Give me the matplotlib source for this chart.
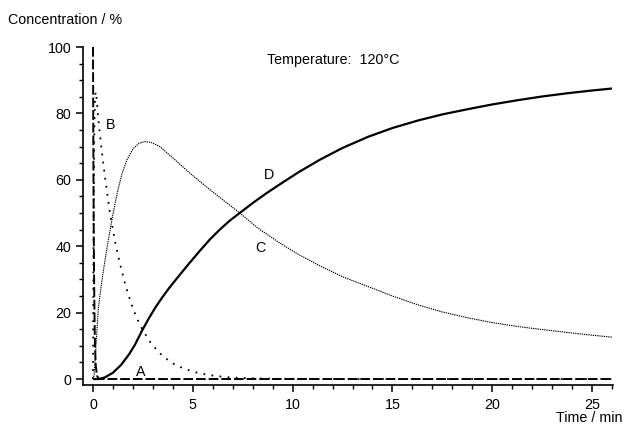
import matplotlib
matplotlib.use("Agg")
import matplotlib.pyplot as plt
from matplotlib.ticker import MultipleLocator

plt.rcParams["font.family"] = ["Liberation Sans", "DejaVu Sans"]
plt.rcParams["font.size"] = 10.3

# concentration profiles of A -> B -> C -> D at 120 °C
t_A = [0, 0.02, 0.04, 0.06, 0.08, 0.1, 0.14, 0.2, 0.3, 26]
conc_A = [100, 65, 42, 27, 17, 10, 4, 1, 0, 0]

t_B = [0, 0.02, 0.04, 0.06, 0.08, 0.1, 0.14, 0.19, 0.27, 0.37, 0.45, 0.62,
       0.72, 0.82, 0.92, 1.12, 1.32, 1.57, 1.75, 1.97, 2.22, 2.47, 2.9, 3.3,
       3.8, 4.2, 5.0, 5.8, 6.6, 7.5, 9, 12, 26]
conc_B = [0, 35, 57, 71, 80, 85, 86.5, 84, 78, 72.5, 68, 60,
          55.5, 51.3, 47.5, 41, 35.5, 29.5, 25.8, 21.8, 18, 15, 10.8, 8,
          5.5, 4, 2.2, 1.2, 0.6, 0.3, 0.1, 0, 0]

t_C = [0, 0.05, 0.1, 0.18, 0.27, 0.4, 0.5, 0.65, 0.8, 0.95, 1.1, 1.25, 1.45,
       1.7, 2.0, 2.3, 2.6, 2.9, 3.35, 4.0, 4.85, 5.7, 6.5, 7.35, 8.25, 9.35,
       10.3, 11.3, 12.5, 13.8, 15.0, 16.3, 17.5, 18.8, 20.0, 21.3, 22.5, 23.8,
       25.0, 26.0]
conc_C = [0, 1, 5, 13, 21.5, 27.5, 31.8, 37.6, 43, 48, 52.7, 57, 61.8,
          66, 69.3, 71, 71.5, 71.3, 70, 66.6, 62, 57.8, 54, 50, 45.5, 41,
          37.5, 34.3, 30.8, 27.8, 25, 22.3, 20.2, 18.4, 17, 15.8, 14.9, 14,
          13.2, 12.6]

t_D = [0, 0.3, 0.6, 1.0, 1.4, 1.8, 2.1, 2.45, 2.8, 3.1, 3.4, 3.8, 4.2, 4.8,
       5.35, 5.85, 6.35, 6.85, 7.35, 8.0, 8.7, 9.35, 10.3, 11.35, 12.5, 13.8,
       15.0, 16.3, 17.5, 18.8, 20.0, 21.3, 22.5, 23.8, 25.0, 26.0]
conc_D = [0, 0, 0.5, 1.9, 4.2, 7.4, 10.3, 14.5, 18.3, 21.3, 24.0, 27.3, 30.3,
          34.7, 38.6, 42, 45, 47.7, 50, 53, 56, 58.6, 62.3, 66, 69.6, 73,
          75.6, 77.9, 79.7, 81.3, 82.7, 84, 85.1, 86.1, 86.9, 87.5]

# curve label positions (time, concentration)
curve_labels = ["A", "B", "C", "D"]
label_t = [2.4, 0.87, 8.4, 8.8]
label_c = [2.1, 76.5, 39.4, 61.3]

fig = plt.figure(figsize=(6.27, 4.34), dpi=100)
ax = fig.add_axes([0.1324, 0.1129, 0.8453, 0.7788])

ax.plot(t_A, conc_A, color="black", lw=1.4, ls=(0, (5, 1.5)))
ax.plot(t_B, conc_B, color="black", lw=1.3, ls=(0, (1, 3.5)))
ax.plot(t_C, conc_C, color="black", lw=0.8, ls=(0, (1.2, 0.8)))
ax.plot(t_D, conc_D, color="black", lw=1.6, solid_capstyle="butt")

for name, x, y in zip(curve_labels, label_t, label_c):
    ax.text(x, y, name, ha="center", va="center")

ax.text(8.7, 96, "Temperature:  120°C", ha="left", va="center")

ax.set_xlim(-0.5, 26.05)
ax.set_ylim(-1.8, 100)

for side in ("top", "right"):
    ax.spines[side].set_visible(False)
for side in ("left", "bottom"):
    ax.spines[side].set_linewidth(1.2)

ax.xaxis.set_major_locator(MultipleLocator(5))
ax.xaxis.set_minor_locator(MultipleLocator(1))
ax.yaxis.set_major_locator(MultipleLocator(20))
ax.yaxis.set_minor_locator(MultipleLocator(5))
ax.tick_params(which="major", direction="out", length=5, width=1.1)
ax.tick_params(which="minor", direction="out", length=3.2, width=1.0)
ax.tick_params(axis="y", which="major", pad=3.5)
ax.tick_params(axis="x", which="major", pad=4)

fig.text(8 / 627, 1 - 20 / 434, "Concentration / %", ha="left", va="center")
fig.text(622 / 627, 1 - 418 / 434, "Time / min", ha="right", va="center")

fig.savefig("out.png", dpi=100)
